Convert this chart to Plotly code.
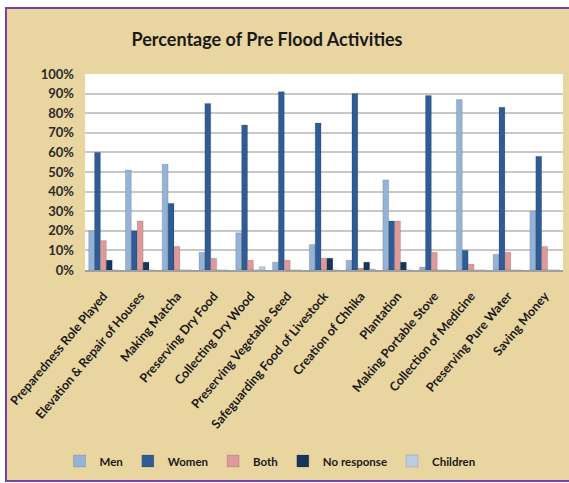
import plotly.graph_objects as go

categories = [
    "Preparedness Role Played", "Elevation & Repair of Houses", "Making Matcha",
    "Preserving Dry Food", "Collecting Dry Wood", "Preserving Vegetable Seed",
    "Safeguarding Food of Livestock", "Creation of Chhika", "Plantation",
    "Making Portable Stove", "Collection of Medicine", "Preserving Pure Water",
    "Saving Money",
]
men = [20, 51, 54, 9, 19, 4, 13, 5, 46, 1.5, 87, 8, 30]
women = [60, 20, 34, 85, 74, 91, 75, 90, 25, 89, 10, 83, 58]
both = [15, 25, 12, 6, 5, 5, 6, 1, 25, 9, 3, 9, 12]
no_response = [5, 4, 0, 0, 0, 0, 6, 4, 4, 0, 0, 0, 0]
children = [0, 0, 0, 0, 1.7, 0, 0, 0.5, 0, 0, 0, 0, 0]
y_ticks = [0, 10, 20, 30, 40, 50, 60, 70, 80, 90, 100]
y_ticklabels = [f"{v}%" for v in y_ticks]

series = [
    ("Men", men, "#95B3D7"),
    ("Women", women, "#2F5C94"),
    ("Both", both, "#E0999A"),
    ("No response", no_response, "#17365D"),
    ("Children", children, "#B9CDE5"),
]

W, H = 569, 483
L, R, T, B = 85, 6, 74, 213
pw = W - L - R
ph = H - T - B

def px_x(p):
    return (p - L) / pw

def px_y(p):
    return (H - B - p) / ph

fig = go.Figure()
for name, vals, col in series:
    fig.add_trace(go.Bar(
        x=categories, y=vals, name=name,
        marker=dict(color=col, line=dict(color="rgba(0,0,0,0.25)", width=0.5)),
    ))

fig.add_shape(type="rect", xref="paper", yref="paper",
              x0=px_x(6), x1=px_x(580), y0=px_y(481), y1=px_y(8),
              fillcolor="#E9D5A0", line=dict(color="#7A3FA8", width=2), layer="below")
fig.add_shape(type="rect", xref="paper", yref="paper",
              x0=0, x1=1, y0=0, y1=1,
              fillcolor="white", line=dict(width=0), layer="below")

fig.update_layout(
    width=W, height=H,
    margin=dict(l=L, r=R, t=T, b=B),
    paper_bgcolor="white",
    plot_bgcolor="white",
    barmode="group",
    bargap=0.2,
    bargroupgap=0,
    title=dict(text="Percentage of Pre Flood Activities",
               x=267 / W, xanchor="center", y=1 - 40 / H, yanchor="middle",
               font=dict(family="Lato", size=18, color="#1a1a1a", weight="bold")),
    font=dict(family="Lato", color="#222222"),
    showlegend=True,
    legend=dict(orientation="h", x=px_x(270), xanchor="center",
                y=px_y(461), yanchor="middle",
                font=dict(family="Lato", size=11.5, color="#1a1a1a", weight="bold"),
                bgcolor="rgba(0,0,0,0)", itemwidth=30, traceorder="normal"),
)
fig.update_yaxes(range=[0, 100], tickvals=y_ticks, ticktext=y_ticklabels,
                 showgrid=True, gridcolor="#C8C8C8", gridwidth=1.5,
                 zeroline=False, showline=False, ticks="",
                 tickfont=dict(family="Lato", size=13, color="#2a2a2a", weight="bold"),
                 ticklabelstandoff=10)
fig.update_xaxes(tickangle=-50, showline=True, linecolor="#A0A0A0", linewidth=1.5,
                 ticks="", ticklabelstandoff=12,
                 tickfont=dict(family="Lato", size=12.5, color="#1a1a1a", weight="bold"))

fig.write_html("out.html")
